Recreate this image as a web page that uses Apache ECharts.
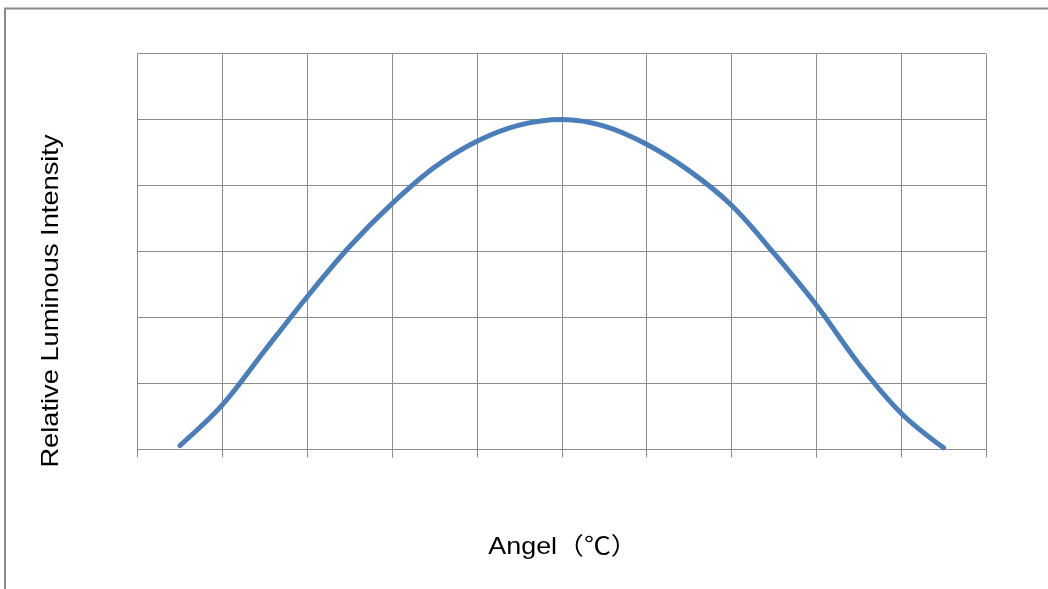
<!DOCTYPE html>
<html>
<head>
<meta charset="utf-8">
<script src="https://cdn.jsdelivr.net/npm/echarts@6/dist/echarts.min.js"></script>
<style>
html,body{margin:0;padding:0;background:#fff;}
#c{width:1048px;height:589px;}
</style>
</head>
<body>
<div id="c"></div>
<script>
const angles = [-90, -80, -70, -60, -50, -40, -30, -20, -10, 0, 10, 20, 30, 40, 50, 60, 70, 80, 90];
const intensity = [1.2, 13.5, 30, 46.3, 61.5, 74.5, 85.5, 93.4, 98.3, 100, 98, 92.5, 84.5, 74, 59.5, 43.8, 26, 11, 0.5];
const xTitle = 'Angel（℃）';
const yTitle = 'Relative Luminous Intensity';

const points = angles.map((a, i) => [a, intensity[i]]);
const chart = echarts.init(document.getElementById('c'), null, {renderer: 'canvas'});
const gridColor = '#8c8c8c';
chart.setOption({
  animation: false,
  backgroundColor: '#ffffff',
  grid: {left: 137.5, top: 53.5, right: 62, bottom: 139.5, containLabel: false},
  xAxis: {
    type: 'value', min: -100, max: 100, interval: 20,
    axisLine: {show: true, lineStyle: {color: gridColor, width: 1}},
    axisTick: {show: true, length: 8, inside: false, lineStyle: {color: gridColor}},
    axisLabel: {show: false},
    splitLine: {show: true, lineStyle: {color: gridColor, width: 1}}
  },
  yAxis: {
    type: 'value', min: 0, max: 120, interval: 20,
    axisLine: {show: true, lineStyle: {color: gridColor, width: 1}},
    axisTick: {show: false},
    axisLabel: {show: false},
    splitLine: {show: true, lineStyle: {color: gridColor, width: 1}}
  },
  series: [{
    type: 'line',
    data: points,
    smooth: 0.35,
    showSymbol: false,
    lineStyle: {color: '#4A7EBB', width: 5, cap: 'round'}
  }],
  graphic: [
    {
      type: 'rect', silent: true, z: -1,
      shape: {x: 5, y: 8.5, width: 1100, height: 700},
      style: {fill: null, stroke: '#8a8a8a', lineWidth: 2}
    },
    {
      type: 'text', x: 563, y: 547, scaleX: 1.12,
      style: {text: xTitle, fill: '#000', font: '24px "Liberation Sans", Arial, "Noto Sans CJK SC", sans-serif', align: 'center', verticalAlign: 'middle'}
    },
    {
      type: 'text', x: 51, y: 301, rotation: Math.PI / 2, scaleX: 1.135,
      style: {text: yTitle, fill: '#000', font: '24px "Liberation Sans", Arial, sans-serif', align: 'center', verticalAlign: 'middle'}
    }
  ]
});
</script>
</body>
</html>
